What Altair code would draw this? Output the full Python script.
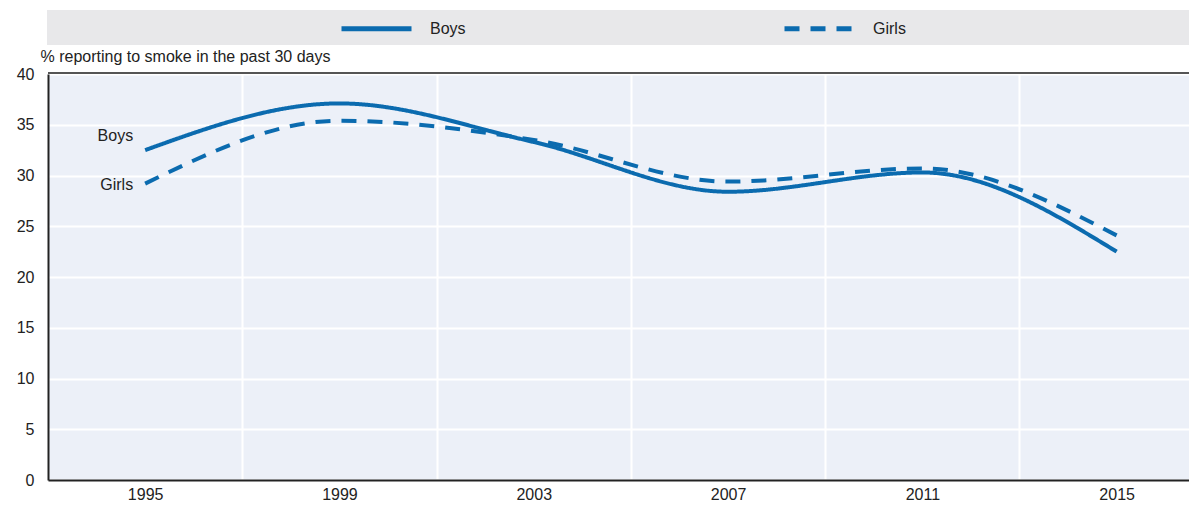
import altair as alt
import pandas as pd

years = [1995, 1999, 2003, 2007, 2011, 2015]
boys = [32.5, 37.1, 33.3, 28.4, 30.3, 22.5]
girls = [29.2, 35.4, 33.5, 29.4, 30.7, 24.1]
series = ["Boys", "Girls"]
grid_years = [1997, 2001, 2005, 2009, 2013]
y_ticks = [0, 5, 10, 15, 20, 25, 30, 35, 40]

rows = []
for s, vals in zip(series, [boys, girls]):
    for yr, v in zip(years, vals):
        rows.append({"year": yr, "value": v, "sex": s})
df = pd.DataFrame(rows)
boys_lab = pd.DataFrame({"year": [years[0]], "value": [boys[0]], "sex": ["Boys"]})
girls_lab = pd.DataFrame({"year": [years[0]], "value": [girls[0]], "sex": ["Girls"]})

BLUE = "#0B6BAF"
FONT = "Liberation Sans"
FS = 16
W, H = 1141, 406
xscale = alt.Scale(domain=[1993, 2016.49], nice=False, zero=False)
yscale = alt.Scale(domain=[0, 40], nice=False)

bg = alt.Chart(pd.DataFrame({"a": [0]})).mark_rect(color="#E8E8EA").encode(
    x=alt.value(-1), x2=alt.value(W + 2), y=alt.value(-64), y2=alt.value(-29)
)

grid_layer = alt.Chart(df).mark_line(opacity=0).encode(
    x=alt.X("year:Q", scale=xscale,
            axis=alt.Axis(values=grid_years, labels=False, ticks=False, domain=False,
                          orient="bottom",
                          grid=True, gridColor="white", gridWidth=2, title=None)),
    y=alt.Y("value:Q", scale=yscale,
            axis=alt.Axis(values=y_ticks, grid=True, gridColor="white", gridWidth=2,
                          ticks=False, labelPadding=14, domainColor="#222", domainWidth=2,
                          labelFont=FONT, labelFontSize=FS, labelColor="#222",
                          title="% reporting to smoke in the past 30 days",
                          titleAngle=0, titleAlign="left", titleBaseline="middle",
                          titleX=-8, titleY=-18, titleFont=FONT, titleFontSize=FS,
                          titleFontWeight="normal", titleColor="#222")),
)

leg = dict(title=None, orient="none", legendX=291, legendY=-83, direction="horizontal",
           columns=2, columnPadding=308, symbolType="stroke", symbolSize=4900,
           symbolStrokeWidth=5, symbolOffset=0, labelFont=FONT, labelFontSize=FS,
           labelColor="#222", labelOffset=16)

lines = alt.Chart(df).mark_line(interpolate="monotone", strokeWidth=4).encode(
    x=alt.X("year:Q", scale=xscale,
            axis=alt.Axis(values=years, format="d", grid=False, ticks=False, orient="bottom",
                          domainColor="#222", domainWidth=2, labelPadding=6,
                          labelFont=FONT, labelFontSize=FS, labelColor="#222", title=None)),
    y=alt.Y("value:Q", scale=yscale),
    color=alt.Color("sex:N", scale=alt.Scale(domain=series, range=[BLUE, BLUE]),
                    legend=alt.Legend(**leg)),
    strokeDash=alt.StrokeDash("sex:N", scale=alt.Scale(domain=series, range=[[1, 0], [15, 11]]),
                              legend=alt.Legend(**leg)),
)

def lab(d, dy):
    return alt.Chart(d).mark_text(align="right", dx=-12, dy=dy, font=FONT, fontSize=FS,
                                  color="#222").encode(
        x=alt.X("year:Q", scale=xscale, axis=None),
        y=alt.Y("value:Q", scale=yscale),
        text="sex:N",
    )

top_border = alt.Chart(pd.DataFrame({"a": [0]})).mark_rule(color="#555", strokeWidth=2).encode(
    x=alt.value(0), x2=alt.value(W), y=alt.value(-1)
)

chart = alt.layer(bg, grid_layer, lines, lab(boys_lab, -14), lab(girls_lab, 1),
                  top_border).resolve_axis(x="independent").properties(
    width=W, height=H, padding={"left": 40, "top": 66, "right": 0, "bottom": 24},
    autosize=alt.AutoSizeParams(type="none"), background="white",
).configure_view(fill="#ECF0F8", strokeWidth=0)

chart.save("out.html", embed_options={"renderer": "svg", "actions": False})
